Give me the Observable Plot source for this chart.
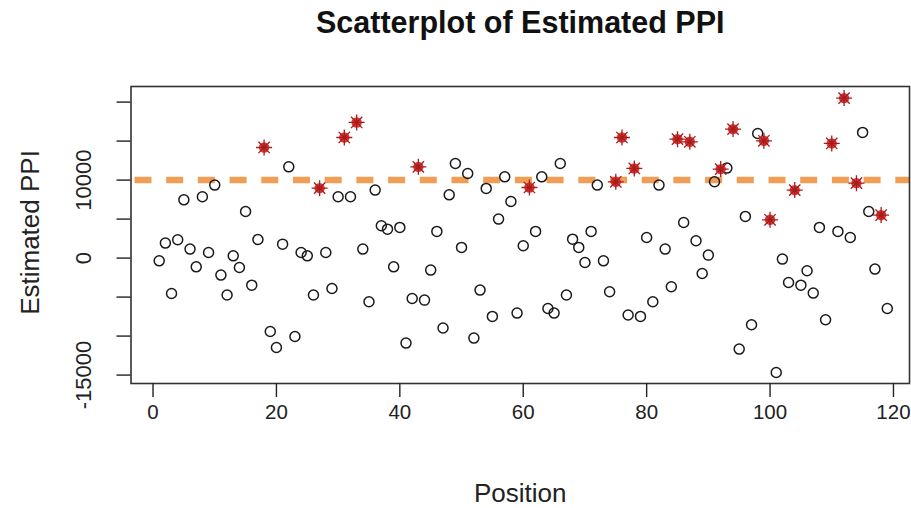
<!DOCTYPE html>
<html>
<head>
<meta charset="utf-8">
<script src="https://cdn.jsdelivr.net/npm/d3@7"></script>
<script src="https://cdn.jsdelivr.net/npm/@observablehq/plot@0.6"></script>
<style>
  html, body { margin: 0; padding: 0; background: #fff; }
  #chart { width: 911px; height: 508px; }
</style>
</head>
<body>
<div id="chart"></div>
<script>
// ---- data ----
const titleText = "Scatterplot of Estimated PPI";
const xLabel = "Position";
const yLabel = "Estimated PPI";

// Estimated PPI in order of position (1, 2, 3, ...)
const ppiValues = [
  -350, 1920, -4540, 2350, 7470, 1150, -1120, 7860, 720, 9360,
  -2180, -4740, 290, -1200, 5980, -3470, 2390, 14180, -9410, -11460,
  1790, 11700, -10050, 720, 290, -4740, 8970, 720, -3900, 7860,
  15460, 7860, 17390, 1150, -5600, 8720, 4140, 3710, -1120, 3930,
  -10900, -5180, 11700, -5390, -1540, 3420, -8970, 8110, 12130, 1370,
  10850, -10260, -4100, 8930, -7480, 5000, 10420, 7260, -7050, 1580,
  9050, 3420, 10420, -6460, -7050, 12130, -4740, 2430, 1370, -560,
  3420, 9360, -350, -4320, 9780, 15460, -7300, 11490, -7480, 2640,
  -5600, 9360, 1150, -3680, 15250, 4560, 14910, 2220, -1970, 380,
  9780, 11410, 11540, 16540, -11670, 5340, -8550, 15980, 15040, 4910,
  -14670, -130, -3130, 8720, -3470, -1630, -4490, 3930, -7910, 14700,
  3420, 20510, 2640, 9610, 16110, 5980, -1410, 5510, -6460
];

// positions drawn as highlighted (red star) points
const highlightedPositions = [18, 27, 31, 33, 43, 61, 75, 76, 78, 85, 87, 92, 94, 99, 100, 104, 110, 112, 114, 118];

const threshold = 10000;

const xTicks = [0, 20, 40, 60, 80, 100, 120];
const yTicks = [-15000, -10000, -5000, 0, 5000, 10000, 15000, 20000];
const yTickLabels = [-15000, 0, 10000];

// ---- build table ----
const points = ppiValues.map((v, i) => ({position: i + 1, ppi: v}));
const hiSet = new Set(highlightedPositions);
const plain = points.filter(d => !hiSet.has(d.position));
const hi = points.filter(d => hiSet.has(d.position));

// pch-8 style star (+ and x superimposed)
const starSymbol = {
  draw(context, size) {
    const l = Math.sqrt(size / Math.PI);
    const d = l * Math.SQRT1_2;
    context.moveTo(-l, 0); context.lineTo(l, 0);
    context.moveTo(0, -l); context.lineTo(0, l);
    context.moveTo(-d, -d); context.lineTo(d, d);
    context.moveTo(-d, d); context.lineTo(d, -d);
  }
};

const font = "'Liberation Sans', Arial, sans-serif";

const chart = Plot.plot({
  width: 911,
  height: 508,
  marginTop: 86,
  marginBottom: 125,
  marginLeft: 130.5,
  marginRight: 2,
  style: {fontFamily: font, background: "#fff", color: "#111"},
  x: {domain: [-3.57, 122.6], axis: null},
  y: {domain: [-16080, 22000], axis: null},
  marks: [
    Plot.ruleY([threshold], {stroke: "#F09E55", strokeWidth: 6.5, strokeDasharray: "17 14.7", strokeDashoffset: -4}),
    Plot.dot(plain, {x: "position", y: "ppi", r: 5, stroke: "#1a1a1a", strokeWidth: 1.5, fill: "none"}),
    Plot.dot(hi, {x: "position", y: "ppi", r: 5.2, fill: "#E3332F", stroke: "none"}),
    Plot.dot(hi, {x: "position", y: "ppi", r: 8, symbol: starSymbol, stroke: "#A01E1E", strokeWidth: 1.3, fill: "none"}),
    Plot.frame({stroke: "#333", strokeWidth: 1.6}),
    Plot.axisX({ticks: xTicks, tickSize: 14, tickPadding: 7, fontSize: 20.5, tickFormat: d => String(d), stroke: "#222", strokeWidth: 1.4, fill: "#222", label: null}),
    Plot.axisY({ticks: yTicks, tickSize: 14, tickFormat: () => "", stroke: "#222", strokeWidth: 1.4, label: null}),
    Plot.text(yTickLabels, {y: d => d, text: d => String(d), frameAnchor: "left", dx: -47.5, rotate: -90, textAnchor: "middle", lineAnchor: "middle", fontSize: 22, fill: "#222"}),
    Plot.text([xLabel], {frameAnchor: "bottom", dy: 110, textAnchor: "middle", lineAnchor: "middle", fontSize: 26, fill: "#222"}),
    Plot.text([yLabel], {frameAnchor: "left", dx: -100.5, dy: -2.5, rotate: -90, textAnchor: "middle", lineAnchor: "middle", fontSize: 26, fill: "#222"}),
    Plot.text([titleText], {frameAnchor: "top", dy: -63, textAnchor: "middle", lineAnchor: "middle", fontSize: 30.5, fontWeight: "bold", fill: "#111"})
  ]
});
document.getElementById("chart").appendChild(chart);
</script>
</body>
</html>
